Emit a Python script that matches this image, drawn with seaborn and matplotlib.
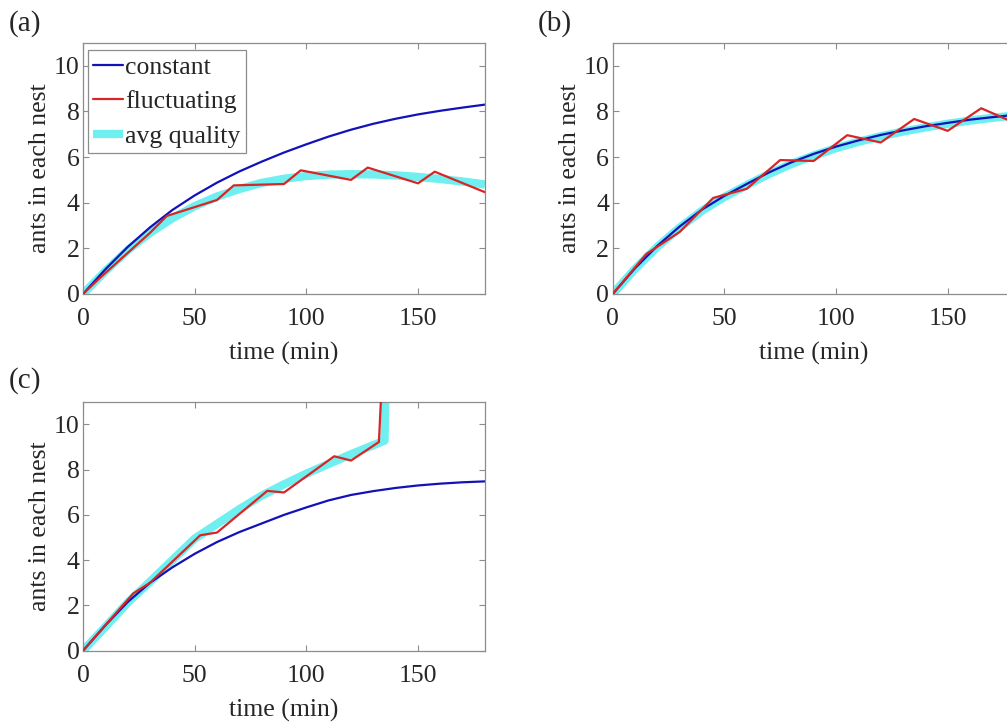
import matplotlib
matplotlib.use("Agg")
import matplotlib.pyplot as plt
import seaborn as sns

# time grid (min) for the smooth curves
t_grid = [0, 10, 20, 30, 40, 50, 60, 70, 80, 90, 100, 110, 120, 130, 140, 150, 160, 170, 180]

# panel (a)
a_const = [0, 1.08, 2.06, 2.92, 3.68, 4.32, 4.88, 5.37, 5.8, 6.2, 6.56, 6.9, 7.2, 7.46, 7.68, 7.87, 8.03, 8.17, 8.3]
a_fluct_t = [0, 7.5, 30, 37.5, 60, 67.5, 90, 97.5, 120, 127.5, 150, 157.5, 180]
a_fluct = [0, 0.7, 2.68, 3.42, 4.12, 4.76, 4.82, 5.42, 5.0, 5.54, 4.85, 5.36, 4.46]
a_avg = [0, 1.0, 1.92, 2.68, 3.32, 3.85, 4.27, 4.6, 4.87, 5.05, 5.17, 5.23, 5.25, 5.24, 5.2, 5.13, 5.04, 4.93, 4.8]

# panel (b)
b_const = [0, 1.13, 2.11, 2.96, 3.7, 4.3, 4.82, 5.33, 5.77, 6.14, 6.46, 6.73, 6.97, 7.17, 7.35, 7.5, 7.64, 7.75, 7.85]
b_fluct_t = [0, 15, 30, 45, 60, 75, 90, 105, 120, 135, 150, 165, 180]
b_fluct = [0, 1.75, 2.72, 4.21, 4.61, 5.87, 5.83, 6.96, 6.64, 7.67, 7.15, 8.14, 7.5]
b_avg = [0, 1.1, 2.07, 2.91, 3.65, 4.25, 4.77, 5.26, 5.7, 6.07, 6.39, 6.67, 6.91, 7.12, 7.3, 7.46, 7.6, 7.72, 7.82]

# panel (c)
c_const = [0, 1.12, 2.15, 3.0, 3.68, 4.28, 4.8, 5.24, 5.62, 6.0, 6.33, 6.64, 6.88, 7.05, 7.19, 7.3, 7.38, 7.44, 7.48]
c_fluct_t = [0, 22.5, 30, 52.5, 60, 82.5, 90, 112.5, 120, 132.5, 133.6]
c_fluct = [0, 2.53, 3.0, 5.1, 5.22, 7.06, 6.99, 8.59, 8.4, 9.22, 11.5]
c_avg_t = [0, 10, 20, 30, 40, 50, 60, 70, 80, 90, 100, 110, 120, 130, 135, 135.4]
c_avg = [0, 1.05, 2.12, 3.05, 4.0, 4.95, 5.6, 6.25, 6.85, 7.35, 7.82, 8.25, 8.68, 9.08, 9.28, 11.5]

x_ticks = [0, 50, 100, 150]
y_ticks = [0, 2, 4, 6, 8, 10]

BLUE = "#1212b8"
RED = "#d92525"
CYAN = "#6feff0"
GRAY = "#8c8c8c"
FS = 18.5

sns.set_style("ticks")
plt.rcParams['font.family'] = ['Liberation Serif', 'DejaVu Serif']
plt.rcParams['font.size'] = FS


def draw_panel(ax, const, fl_t, fl, av_t, av, with_legend=False):
    lab = (lambda s: s) if with_legend else (lambda s: None)
    sns.lineplot(x=t_grid, y=const, ax=ax, color=BLUE, linewidth=1.6, zorder=2, label=lab("constant"))
    sns.lineplot(x=fl_t, y=fl, ax=ax, color=RED, linewidth=1.6, zorder=3, label=lab("fluctuating"))
    sns.lineplot(x=av_t, y=av, ax=ax, color=CYAN, linewidth=6, zorder=1, label=lab("avg quality"),
                 solid_capstyle="butt")
    ax.set_xlim(0, 180)
    ax.set_ylim(0, 11)
    ax.set_xticks(x_ticks)
    ax.set_yticks(y_ticks)
    ax.set_xlabel("time (min)", labelpad=9)
    ax.set_ylabel("ants in each nest", labelpad=2)
    ax.tick_params(direction="in", top=True, right=True, length=4, width=0.8,
                   color=GRAY, labelsize=FS)
    ax.tick_params(axis="x", pad=10)
    ax.tick_params(axis="y", pad=2.5)
    for sp in ax.spines.values():
        sp.set_color(GRAY)
        sp.set_linewidth(0.9)
    if with_legend:
        leg = ax.legend(loc="upper left", bbox_to_anchor=(0.012, 0.972), borderaxespad=0,
                        fontsize=FS, handlelength=1.15, handletextpad=0.08, borderpad=0.22,
                        labelspacing=0.45, fancybox=False, framealpha=1, edgecolor=GRAY)
        leg.get_frame().set_linewidth(0.9)
    elif ax.get_legend() is not None:
        ax.get_legend().remove()


fig = plt.figure(figsize=(10.07, 7.24), dpi=100)
W, H = 1007, 724
ax_a = fig.add_axes([83 / W, (H - 294) / H, 402 / W, 251 / H])
ax_b = fig.add_axes([612.7 / W, (H - 294) / H, 402 / W, 251 / H])
ax_c = fig.add_axes([83 / W, (H - 650.7) / H, 402 / W, 249 / H])

draw_panel(ax_a, a_const, a_fluct_t, a_fluct, t_grid, a_avg, with_legend=True)
draw_panel(ax_b, b_const, b_fluct_t, b_fluct, t_grid, b_avg)
draw_panel(ax_c, c_const, c_fluct_t, c_fluct, c_avg_t, c_avg)

fig.text(9 / W, 1 - 24 / H, "(a)", ha="left", va="center", fontsize=21)
fig.text(538 / W, 1 - 24 / H, "(b)", ha="left", va="center", fontsize=21)
fig.text(9 / W, 1 - 381 / H, "(c)", ha="left", va="center", fontsize=21)

fig.savefig("out.png", dpi=100)
